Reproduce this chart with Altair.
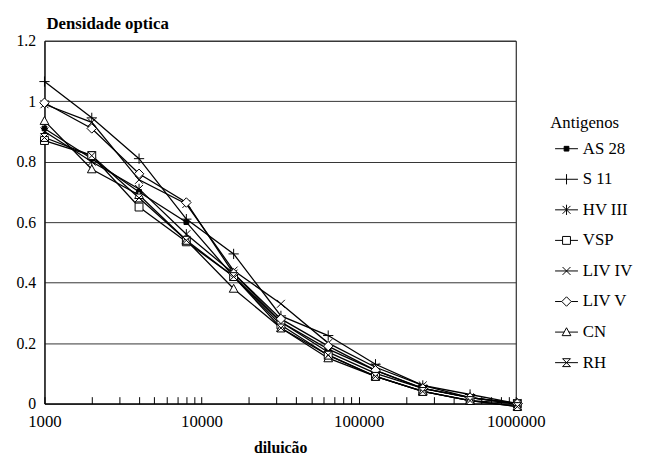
import altair as alt
import pandas as pd

# ---- data ----
dilutions = [1000, 2000, 4000, 8000, 16000, 32000, 64000, 128000, 256000, 512000, 1024000]
series_names = ["AS 28", "S 11", "HV III", "VSP", "LIV IV", "LIV V", "CN", "RH"]

as28 = [0.91, 0.81, 0.70, 0.60, 0.42, 0.27, 0.18, 0.11, 0.05, 0.02, 0.00]
s11 = [1.065, 0.945, 0.81, 0.61, 0.495, 0.29, 0.225, 0.13, 0.06, 0.03, 0.00]
hv3 = [0.90, 0.80, 0.71, 0.56, 0.43, 0.27, 0.17, 0.10, 0.05, 0.02, 0.00]
vsp = [0.87, 0.82, 0.65, 0.535, 0.42, 0.26, 0.16, 0.09, 0.04, 0.01, 0.00]
liv4 = [0.99, 0.93, 0.74, 0.66, 0.44, 0.33, 0.20, 0.12, 0.06, 0.02, 0.00]
liv5 = [0.995, 0.91, 0.76, 0.665, 0.43, 0.28, 0.19, 0.11, 0.05, 0.02, 0.00]
cn = [0.935, 0.775, 0.69, 0.54, 0.38, 0.25, 0.15, 0.09, 0.04, 0.01, -0.01]
rh = [0.88, 0.82, 0.68, 0.54, 0.42, 0.25, 0.16, 0.09, 0.04, 0.01, -0.01]

series_values = [as28, s11, hv3, vsp, liv4, liv5, cn, rh]

major_ticks = [1000, 10000, 100000, 1000000]
y_ticks = [0, 0.2, 0.4, 0.6, 0.8, 1.0, 1.2]

rows = []
for name, vals in zip(series_names, series_values):
    for d, v in zip(dilutions, vals):
        rows.append({"diluicao": d, "od": v, "antigeno": name})
df = pd.DataFrame(rows)

minor_ticks = [m * 10 ** k for k in range(3, 6) for m in range(1, 10)] + [1000000]

# ---- marker styles ----
marker_paths = [
    "M-0.6,-0.6L0.6,-0.6L0.6,0.6L-0.6,0.6Z",
    "M-1.3,0L1.3,0M0,-1.3L0,1.3",
    "M-1,-1L1,1M-1,1L1,-1M0,-1.3L0,1.3",
    "M-1,-1L1,-1L1,1L-1,1Z",
    "M-1,-1L1,1M-1,1L1,-1",
    "M0,-1.2L1.2,0L0,1.2L-1.2,0Z",
    "M0,-1.1L1.1,0.9L-1.1,0.9Z",
    "M-1,-1L1,-1L-1,1L1,1Z",
]
legend_paths = [
    "M-2.9,0L2.9,0M-0.6,-0.6L0.6,-0.6L0.6,0.6L-0.6,0.6Z",
    "M-2.9,0L2.9,0M0,-1.3L0,1.3",
    "M-2.9,0L2.9,0M-1,-1L1,1M-1,1L1,-1M0,-1.3L0,1.3",
    "M-2.9,0L-1,0M1,0L2.9,0M-1,-1L1,-1L1,1L-1,1Z",
    "M-2.9,0L2.9,0M-1,-1L1,1M-1,1L1,-1",
    "M-2.9,0L-1.2,0M1.2,0L2.9,0M0,-1.2L1.2,0L0,1.2L-1.2,0Z",
    "M-2.9,0L-0.6,0M0.6,0L2.9,0M0,-1.1L1.1,0.9L-1.1,0.9Z",
    "M-2.9,0L2.9,0M-1,-1L1,-1L-1,1L1,1Z",
]
fills = ["black"] + ["white"] * 7

W, H = 478, 368
FONT = "Liberation Serif, Times New Roman, Times, serif"

xscale = alt.Scale(type="log", domain=[1000, 1000000])
yscale = alt.Scale(domain=[0, 1.2], nice=False)

y_enc = alt.Y(
    "od:Q",
    scale=yscale,
    axis=alt.Axis(
        values=y_ticks, format="~g", grid=True, gridColor="#333333", gridWidth=1,
        ticks=False, domainColor="black", labelPadding=9, labelFontSize=16, title=None,
    ),
)

base = alt.Chart(df)

lines = base.mark_line(color="black", strokeWidth=1.3).encode(
    x=alt.X(
        "diluicao:Q", scale=xscale,
        axis=alt.Axis(
            orient="top", offset=-H, values=minor_ticks, labels=False, domain=False,
            ticks=True, tickSize=7, tickColor="black", grid=False, title=None,
        ),
    ),
    y=y_enc,
    detail="antigeno:N",
)

points = base.mark_point(filled=True, size=64, stroke="black", strokeWidth=1, opacity=1).encode(
    x=alt.X(
        "diluicao:Q", scale=xscale,
        axis=alt.Axis(
            orient="bottom", values=major_ticks, format="d", ticks=False, grid=False,
            labelFlush=False, domainColor="black", labelPadding=10, labelFontSize=17,
            title="diluicão", titlePadding=11, titleFontSize=16,
        ),
    ),
    y=y_enc,
    shape=alt.Shape("antigeno:N", scale=alt.Scale(domain=series_names, range=marker_paths), legend=None),
    fill=alt.Fill("antigeno:N", scale=alt.Scale(domain=series_names, range=fills), legend=None),
)

legend_params = dict(
    title="Antigenos", orient="none", legendX=513, legendY=75,
    symbolOpacity=1, symbolSize=64, symbolStrokeWidth=1, symbolOffset=8,
    labelOffset=8, rowPadding=13, titlePadding=9, padding=0,
)

legend_layer = base.mark_point(filled=True, size=64, stroke="black", strokeWidth=1, opacity=0).encode(
    x=alt.X("diluicao:Q", scale=xscale, axis=None),
    y=y_enc,
    shape=alt.Shape(
        "antigeno:N",
        scale=alt.Scale(domain=series_names, range=legend_paths),
        legend=alt.Legend(**legend_params),
    ),
    fill=alt.Fill(
        "antigeno:N",
        scale=alt.Scale(domain=series_names, range=fills),
        legend=alt.Legend(**legend_params),
    ),
)

chart = (
    alt.layer(lines, points, legend_layer)
    .resolve_axis(x="independent")
    .resolve_scale(shape="independent", fill="independent")
    .properties(
        width=W, height=H,
        title=alt.TitleParams(
            "Densidade optica", anchor="start", frame="group", font=FONT, fontSize=17,
            fontWeight="bold", color="black", offset=0, dx=2,
        ),
        padding={"left": 8, "top": 4, "right": 5, "bottom": 0},
    )
    .configure_view(stroke="black", strokeWidth=1)
    .configure_axis(
        labelFont=FONT, labelColor="black",
        titleFont=FONT, titleFontWeight="bold", titleColor="black",
    )
    .configure_legend(
        titleFont=FONT, titleFontSize=17, titleFontWeight="normal", titleColor="black",
        labelFont=FONT, labelFontSize=17, labelColor="black",
    )
)

chart.save("out.html", embed_options={"renderer": "svg", "actions": False})
